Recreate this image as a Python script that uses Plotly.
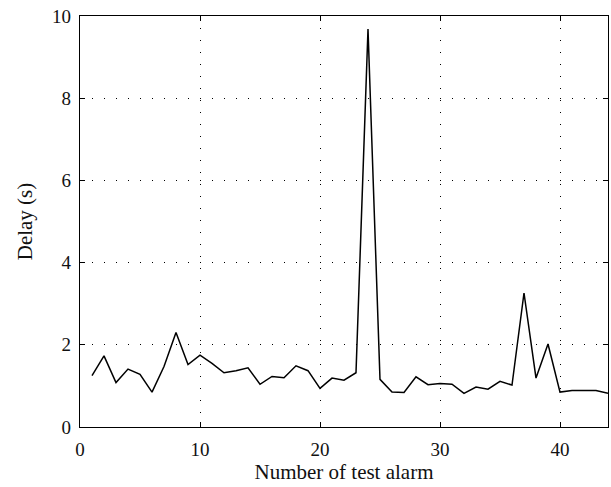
import plotly.graph_objects as go

alarm_no = list(range(1, 45))
delay_s = [1.25, 1.73, 1.08, 1.41, 1.28, 0.85, 1.47, 2.30, 1.52, 1.75,
           1.55, 1.32, 1.37, 1.44, 1.04, 1.23, 1.20, 1.49, 1.37, 0.94,
           1.19, 1.14, 1.32, 9.68, 1.16, 0.85, 0.84, 1.22, 1.03, 1.06,
           1.04, 0.82, 0.97, 0.92, 1.11, 1.02, 3.26, 1.19, 2.02, 0.85,
           0.89, 0.89, 0.89, 0.82]
x_ticks = [0, 10, 20, 30, 40]
y_ticks = [0, 2, 4, 6, 8, 10]

fig = go.Figure()
fig.add_trace(go.Scatter(x=alarm_no, y=delay_s, mode="lines",
                         line=dict(color="black", width=1.5), showlegend=False))

font = dict(family="Liberation Serif, DejaVu Serif, serif", size=19, color="#111")
title_font = dict(family="Liberation Serif, DejaVu Serif, serif", size=21, color="#111")
axis_common = dict(showline=True, linecolor="black", linewidth=1.2, mirror="ticks",
                   ticks="inside", ticklen=5, tickcolor="black",
                   showgrid=True, gridcolor="black", gridwidth=1,
                   griddash="1px,11px", zeroline=False, tickfont=font)

fig.update_layout(
    width=611, height=487,
    margin=dict(l=80, r=3, t=16, b=60),
    paper_bgcolor="white", plot_bgcolor="white",
    font=font,
    xaxis=dict(range=[0, 44], tickvals=x_ticks, ticklabelstandoff=5,
               title=dict(text="Number of test alarm", font=title_font, standoff=5), **axis_common),
    yaxis=dict(range=[0, 10], tickvals=y_ticks, ticklabelstandoff=4,
               title=dict(text="Delay (s)", font=title_font, standoff=13), **axis_common),
)
fig.write_html("out.html", config={"displayModeBar": False},
               post_script="document.body.style.margin='0';document.body.style.overflow='hidden';")
